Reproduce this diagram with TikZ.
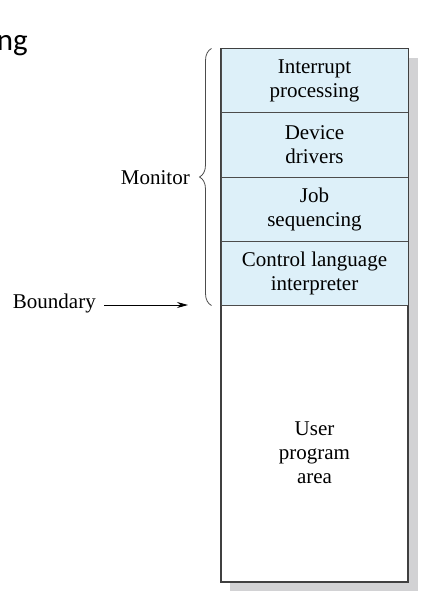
\documentclass[tikz,border=0pt]{standalone}
\usepackage{fontspec}
\setmainfont{Liberation Serif}
\newfontfamily\slidefont{Carlito}
\usetikzlibrary{calc, arrows.meta, positioning, decorations.pathreplacing}

\definecolor{cellblue}{RGB}{221,240,249}
\definecolor{shadowgrey}{RGB}{210,210,212}

\begin{document}
\begin{tikzpicture}[x=1pt, y=-1pt, >={Stealth[length=11pt, width=6pt]}]
	\tikzstyle{cell} = [draw=black!70, line width=1pt, fill=cellblue, minimum width=187pt, minimum height=64pt, inner sep=0pt, align=center, font=\fontsize{21}{24}\selectfont]
	\tikzstyle{area} = [draw=black!75, line width=1.2pt, fill=white, minimum width=187pt, minimum height=277pt, inner sep=0pt]
	\tikzstyle{invis} = [draw=none, inner sep=0pt, align=center, font=\fontsize{21}{24}\selectfont]
	\tikzstyle{brc} = [decorate, decoration={brace, amplitude=12pt}, draw=black!70, line width=0.8pt]
	
	\useasboundingbox (0,0) rectangle (424,607);
	\fill[shadowgrey] (230,58) rectangle (418,591);
	
	\node[area] 	at (314.5, 443.5) 	(user) 	{};
	\node[cell] 	at (314.5, 81) 		(intr) 	{Interrupt\\processing};
	\node[cell] 	at (314.5, 145) 	(drv) 	{Device\\drivers};
	\node[cell] 	at (314.5, 209) 	(job) 	{Job\\sequencing};
	\node[cell] 	at (314.5, 273) 	(ctl) 	{Control language\\interpreter};
	\draw[draw=black!75, line width=1.2pt] (intr.north west) rectangle (user.south east);
	\node[invis] 	at (314.5, 453) 	(usr) 	{User\\program\\area};
	
	\node[invis, font=\slidefont\fontsize{31}{36}\selectfont, anchor=base east] at (28, 51) (ttl) {ng};
	\node[invis, anchor=east] 	at (190, 178) 	(mon) 	{Monitor};
	\node[invis, anchor=east, inner xsep=8pt] 	at (104, 303) 	(bnd) 	{Boundary};
	\coordinate (bend) at (188, 305);
	
	\draw[brc] ([xshift=-9pt]ctl.south west) -- ([xshift=-9pt]intr.north west);
	\draw[->, line width=0.8pt] (bnd.east |- bend) -- (bend);
\end{tikzpicture}
\end{document}
